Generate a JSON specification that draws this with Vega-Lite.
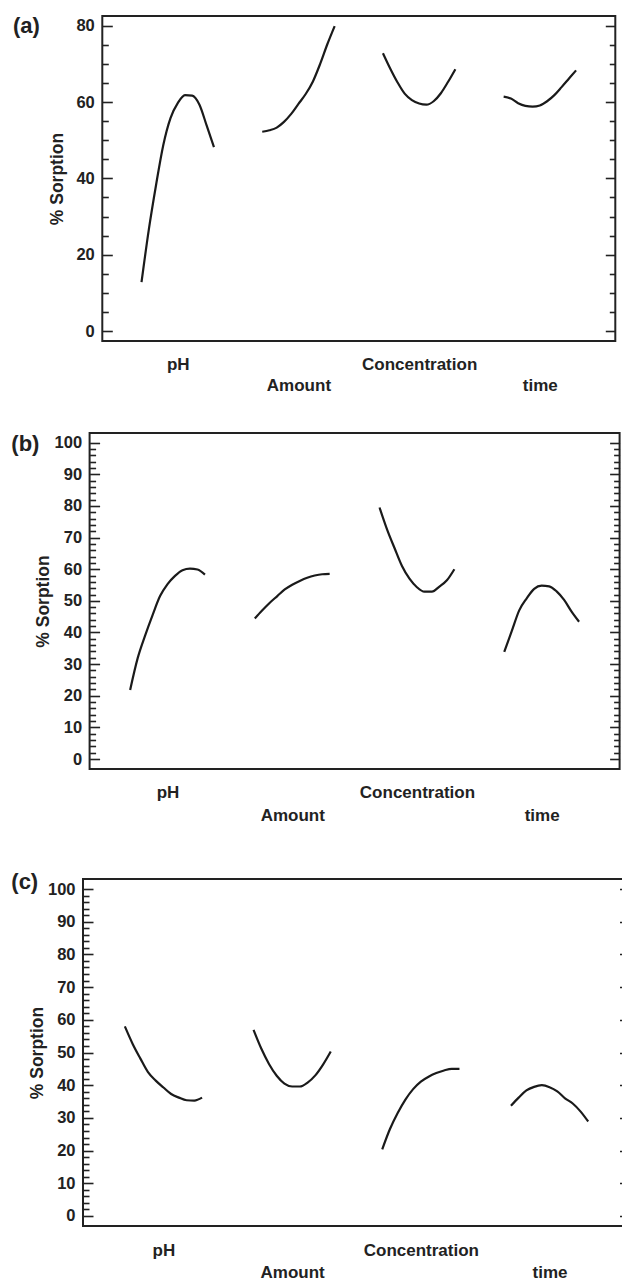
{
  "$schema": "https://vega.github.io/schema/vega-lite/v6.json",
  "padding": {"left": 10, "top": 14, "right": 0, "bottom": 0},
  "datasets": {
    "a": [
      {"f":"pH","x":0.7,"y":12.8},{"f":"pH","x":0.76,"y":26.5},{"f":"pH","x":0.82,"y":38.2},{"f":"pH","x":0.88,"y":48.7},{"f":"pH","x":0.94,"y":55.8},{"f":"pH","x":1.0,"y":59.7},{"f":"pH","x":1.06,"y":61.8},{"f":"pH","x":1.12,"y":61.7},{"f":"pH","x":1.18,"y":59.3},{"f":"pH","x":1.24,"y":53.8},{"f":"pH","x":1.3,"y":48.2},
      {"f":"Amount","x":1.7,"y":52.2},{"f":"Amount","x":1.76,"y":52.6},{"f":"Amount","x":1.82,"y":53.3},{"f":"Amount","x":1.88,"y":54.8},{"f":"Amount","x":1.94,"y":56.9},{"f":"Amount","x":2.0,"y":59.5},{"f":"Amount","x":2.06,"y":62.1},{"f":"Amount","x":2.12,"y":65.4},{"f":"Amount","x":2.18,"y":70.0},{"f":"Amount","x":2.24,"y":75.2},{"f":"Amount","x":2.3,"y":79.9},
      {"f":"Concentration","x":2.7,"y":72.8},{"f":"Concentration","x":2.76,"y":68.8},{"f":"Concentration","x":2.82,"y":65.2},{"f":"Concentration","x":2.88,"y":62.2},{"f":"Concentration","x":2.94,"y":60.5},{"f":"Concentration","x":3.0,"y":59.6},{"f":"Concentration","x":3.06,"y":59.3},{"f":"Concentration","x":3.12,"y":60.2},{"f":"Concentration","x":3.18,"y":62.3},{"f":"Concentration","x":3.24,"y":65.3},{"f":"Concentration","x":3.3,"y":68.6},
      {"f":"time","x":3.7,"y":61.4},{"f":"time","x":3.76,"y":60.9},{"f":"time","x":3.82,"y":59.7},{"f":"time","x":3.88,"y":59.0},{"f":"time","x":3.94,"y":58.8},{"f":"time","x":4.0,"y":59.1},{"f":"time","x":4.06,"y":60.2},{"f":"time","x":4.12,"y":61.8},{"f":"time","x":4.18,"y":63.9},{"f":"time","x":4.24,"y":66.1},{"f":"time","x":4.3,"y":68.3}
    ],
    "b": [
      {"f":"pH","x":0.7,"y":21.8},{"f":"pH","x":0.76,"y":31.8},{"f":"pH","x":0.82,"y":39.0},{"f":"pH","x":0.88,"y":45.5},{"f":"pH","x":0.94,"y":51.5},{"f":"pH","x":1.0,"y":55.3},{"f":"pH","x":1.06,"y":57.9},{"f":"pH","x":1.12,"y":59.7},{"f":"pH","x":1.18,"y":60.2},{"f":"pH","x":1.24,"y":59.9},{"f":"pH","x":1.3,"y":58.3},
      {"f":"Amount","x":1.7,"y":44.4},{"f":"Amount","x":1.76,"y":47.0},{"f":"Amount","x":1.82,"y":49.4},{"f":"Amount","x":1.88,"y":51.5},{"f":"Amount","x":1.94,"y":53.6},{"f":"Amount","x":2.0,"y":55.1},{"f":"Amount","x":2.06,"y":56.3},{"f":"Amount","x":2.12,"y":57.3},{"f":"Amount","x":2.18,"y":58.0},{"f":"Amount","x":2.24,"y":58.4},{"f":"Amount","x":2.3,"y":58.5},
      {"f":"Concentration","x":2.7,"y":79.5},{"f":"Concentration","x":2.76,"y":72.6},{"f":"Concentration","x":2.82,"y":66.7},{"f":"Concentration","x":2.88,"y":61.0},{"f":"Concentration","x":2.94,"y":57.0},{"f":"Concentration","x":3.0,"y":54.3},{"f":"Concentration","x":3.06,"y":52.9},{"f":"Concentration","x":3.12,"y":52.9},{"f":"Concentration","x":3.18,"y":54.5},{"f":"Concentration","x":3.24,"y":56.5},{"f":"Concentration","x":3.3,"y":60.0},
      {"f":"time","x":3.7,"y":33.9},{"f":"time","x":3.76,"y":40.4},{"f":"time","x":3.82,"y":47.0},{"f":"time","x":3.88,"y":50.8},{"f":"time","x":3.94,"y":53.8},{"f":"time","x":4.0,"y":54.8},{"f":"time","x":4.06,"y":54.6},{"f":"time","x":4.12,"y":53.0},{"f":"time","x":4.18,"y":50.3},{"f":"time","x":4.24,"y":46.6},{"f":"time","x":4.3,"y":43.4}
    ],
    "c": [
      {"f":"pH","x":0.7,"y":58.0},{"f":"pH","x":0.76,"y":52.7},{"f":"pH","x":0.82,"y":48.2},{"f":"pH","x":0.88,"y":44.0},{"f":"pH","x":0.94,"y":41.4},{"f":"pH","x":1.0,"y":39.3},{"f":"pH","x":1.06,"y":37.3},{"f":"pH","x":1.12,"y":36.2},{"f":"pH","x":1.18,"y":35.4},{"f":"pH","x":1.24,"y":35.3},{"f":"pH","x":1.3,"y":36.2},
      {"f":"Amount","x":1.7,"y":56.9},{"f":"Amount","x":1.76,"y":51.2},{"f":"Amount","x":1.82,"y":46.5},{"f":"Amount","x":1.88,"y":42.9},{"f":"Amount","x":1.94,"y":40.5},{"f":"Amount","x":2.0,"y":39.6},{"f":"Amount","x":2.06,"y":39.6},{"f":"Amount","x":2.12,"y":40.8},{"f":"Amount","x":2.18,"y":43.0},{"f":"Amount","x":2.24,"y":46.3},{"f":"Amount","x":2.3,"y":50.3},
      {"f":"Concentration","x":2.7,"y":20.4},{"f":"Concentration","x":2.76,"y":26.6},{"f":"Concentration","x":2.82,"y":31.5},{"f":"Concentration","x":2.88,"y":35.6},{"f":"Concentration","x":2.94,"y":38.8},{"f":"Concentration","x":3.0,"y":41.1},{"f":"Concentration","x":3.06,"y":42.6},{"f":"Concentration","x":3.12,"y":43.7},{"f":"Concentration","x":3.18,"y":44.5},{"f":"Concentration","x":3.24,"y":45.0},{"f":"Concentration","x":3.3,"y":45.0},
      {"f":"time","x":3.7,"y":33.7},{"f":"time","x":3.76,"y":36.2},{"f":"time","x":3.82,"y":38.4},{"f":"time","x":3.88,"y":39.5},{"f":"time","x":3.94,"y":40.0},{"f":"time","x":4.0,"y":39.4},{"f":"time","x":4.06,"y":38.1},{"f":"time","x":4.12,"y":36.0},{"f":"time","x":4.18,"y":34.4},{"f":"time","x":4.24,"y":32.0},{"f":"time","x":4.3,"y":28.9}
    ]
  },
  "columns": 1,
  "center": true,
  "spacing": 0,
  "concat": [
    {
      "width": 513, "height": 325,
      "data": {"name": "a"},
      "title": {"text": "(a)", "anchor": "start", "frame": "group", "orient": "top", "offset": 0, "dx": -89.3, "dy": 22, "fontSize": 22, "fontWeight": "bold", "font": "Liberation Sans", "color": "#222"},
      "encoding": {
        "x": {"field": "x", "type": "quantitative", "scale": {"domain": [0.375, 4.625], "nice": false, "zero": false},
          "axis": {"values": [1, 2, 3, 4], "domain": false, "grid": false, "ticks": false, "title": null,
            "labelExpr": "datum.value === 1 ? 'pH' : datum.value === 2 ? ['', 'Amount'] : datum.value === 3 ? 'Concentration' : ['', 'time']",
            "labelBaseline": "top", "labelPadding": 15, "labelLineHeight": 21, "labelFontSize": 17, "labelFontWeight": "bold", "labelColor": "#222", "labelFont": "Liberation Sans", "labelOverlap": false, "labelFlush": false, "minExtent": 90, "maxExtent": 90}},
        "detail": {"field": "f"}
      },
      "layer": [
        {"mark": {"type": "line", "interpolate": "monotone", "color": "#1a1a1a", "strokeWidth": 2.2},
          "encoding": {"y": {"field": "y", "type": "quantitative", "scale": {"domain": [-2.62, 82.54], "nice": false, "zero": false},
            "axis": {"orient": "left", "values": [0,5,10,15,20,25,30,35,40,45,50,55,60,65,70,75,80], "domain": false, "grid": false,
              "tickSize": {"condition": {"test": "datum.value % 20 === 0", "value": -10}, "value": -6}, "tickColor": "#222", "tickWidth": 1.6,
              "labelExpr": "datum.value % 20 === 0 ? datum.label : ''", "labelPadding": 18, "labelFontSize": 16.5, "labelFontWeight": "bold", "labelColor": "#222", "labelFont": "Liberation Sans", "labelOverlap": false,
              "title": "% Sorption", "titleFontSize": 17.5, "titleFontWeight": "bold", "titleColor": "#222", "titleFont": "Liberation Sans", "titleX": -36}}}},
        {"mark": {"type": "line", "opacity": 0},
          "encoding": {"y": {"field": "y", "type": "quantitative", "scale": {"domain": [-2.62, 82.54], "nice": false, "zero": false},
            "axis": {"orient": "right", "values": [0,5,10,15,20,25,30,35,40,45,50,55,60,65,70,75,80], "domain": false, "grid": false, "labels": false, "title": null,
              "tickSize": {"condition": {"test": "datum.value % 20 === 0", "value": -10}, "value": -6}, "tickColor": "#222", "tickWidth": 1.6, "minExtent": 3.4, "maxExtent": 3.4}}}}
      ],
      "resolve": {"axis": {"y": "independent"}}
    },
    {
      "width": 530, "height": 336,
      "data": {"name": "b"},
      "title": {"text": "(b)", "anchor": "start", "frame": "group", "orient": "top", "offset": 0, "dx": -78.3, "dy": 23, "fontSize": 22, "fontWeight": "bold", "font": "Liberation Sans", "color": "#222"},
      "encoding": {
        "x": {"field": "x", "type": "quantitative", "scale": {"domain": [0.375, 4.625], "nice": false, "zero": false},
          "axis": {"values": [1, 2, 3, 4], "domain": false, "grid": false, "ticks": false, "title": null,
            "labelExpr": "datum.value === 1 ? 'pH' : datum.value === 2 ? ['', 'Amount'] : datum.value === 3 ? 'Concentration' : ['', 'time']",
            "labelBaseline": "top", "labelPadding": 15, "labelLineHeight": 23, "labelFontSize": 17, "labelFontWeight": "bold", "labelColor": "#222", "labelFont": "Liberation Sans", "labelOverlap": false, "labelFlush": false, "minExtent": 100, "maxExtent": 100}},
        "detail": {"field": "f"}
      },
      "layer": [
        {"mark": {"type": "line", "interpolate": "monotone", "color": "#1a1a1a", "strokeWidth": 2.2},
          "encoding": {"y": {"field": "y", "type": "quantitative", "scale": {"domain": [-3.16, 103.06], "nice": false, "zero": false},
            "axis": {"orient": "left", "values": [0,2,4,6,8,10,12,14,16,18,20,22,24,26,28,30,32,34,36,38,40,42,44,46,48,50,52,54,56,58,60,62,64,66,68,70,72,74,76,78,80,82,84,86,88,90,92,94,96,98,100], "domain": false, "grid": false,
              "tickSize": {"condition": {"test": "datum.value % 10 === 0", "value": -10}, "value": -6}, "tickColor": "#222", "tickWidth": 1.6,
              "labelExpr": "datum.value % 10 === 0 ? datum.label : ''", "labelPadding": 18, "labelFontSize": 16.5, "labelFontWeight": "bold", "labelColor": "#222", "labelFont": "Liberation Sans", "labelOverlap": false,
              "title": "% Sorption", "titleFontSize": 17.5, "titleFontWeight": "bold", "titleColor": "#222", "titleFont": "Liberation Sans", "titleX": -37}}}},
        {"mark": {"type": "line", "opacity": 0},
          "encoding": {"y": {"field": "y", "type": "quantitative", "scale": {"domain": [-3.16, 103.06], "nice": false, "zero": false},
            "axis": {"orient": "right", "values": [0,2,4,6,8,10,12,14,16,18,20,22,24,26,28,30,32,34,36,38,40,42,44,46,48,50,52,54,56,58,60,62,64,66,68,70,72,74,76,78,80,82,84,86,88,90,92,94,96,98,100], "domain": false, "grid": false, "labels": false, "title": null,
              "tickSize": {"condition": {"test": "datum.value % 10 === 0", "value": -10}, "value": -6}, "tickColor": "#222", "tickWidth": 1.6, "minExtent": 11.8, "maxExtent": 11.8}}}}
      ],
      "resolve": {"axis": {"y": "independent"}}
    },
    {
      "width": 547, "height": 347,
      "data": {"name": "c"},
      "title": {"text": "(c)", "anchor": "start", "frame": "group", "orient": "top", "offset": 0, "dx": -71.7, "dy": 15, "fontSize": 22, "fontWeight": "bold", "font": "Liberation Sans", "color": "#222"},
      "encoding": {
        "x": {"field": "x", "type": "quantitative", "scale": {"domain": [0.375, 4.625], "nice": false, "zero": false},
          "axis": {"values": [1, 2, 3, 4], "domain": false, "grid": false, "ticks": false, "title": null,
            "labelExpr": "datum.value === 1 ? 'pH' : datum.value === 2 ? ['', 'Amount'] : datum.value === 3 ? 'Concentration' : ['', 'time']",
            "labelBaseline": "top", "labelPadding": 16, "labelLineHeight": 22, "labelFontSize": 17, "labelFontWeight": "bold", "labelColor": "#222", "labelFont": "Liberation Sans", "labelOverlap": false, "labelFlush": false}},
        "detail": {"field": "f"}
      },
      "layer": [
        {"mark": {"type": "line", "interpolate": "monotone", "color": "#1a1a1a", "strokeWidth": 2.2},
          "encoding": {"y": {"field": "y", "type": "quantitative", "scale": {"domain": [-3.06, 103.06], "nice": false, "zero": false},
            "axis": {"orient": "left", "values": [0,2,4,6,8,10,12,14,16,18,20,22,24,26,28,30,32,34,36,38,40,42,44,46,48,50,52,54,56,58,60,62,64,66,68,70,72,74,76,78,80,82,84,86,88,90,92,94,96,98,100], "domain": false, "grid": false,
              "tickSize": {"condition": {"test": "datum.value % 10 === 0", "value": -10}, "value": -6}, "tickColor": "#222", "tickWidth": 1.6,
              "labelExpr": "datum.value % 10 === 0 ? datum.label : ''", "labelPadding": 18, "labelFontSize": 16.5, "labelFontWeight": "bold", "labelColor": "#222", "labelFont": "Liberation Sans", "labelOverlap": false,
              "title": "% Sorption", "titleFontSize": 17.5, "titleFontWeight": "bold", "titleColor": "#222", "titleFont": "Liberation Sans", "titleX": -37}}}},
        {"mark": {"type": "line", "opacity": 0},
          "encoding": {"y": {"field": "y", "type": "quantitative", "scale": {"domain": [-3.06, 103.06], "nice": false, "zero": false},
            "axis": {"orient": "right", "values": [0,10,20,30,40,50,60,70,80,90,100], "domain": false, "grid": false, "labels": false, "title": null,
              "tickSize": -10.5, "tickColor": "#222", "tickWidth": 1.6, "minExtent": 8, "maxExtent": 8}}}}
      ],
      "resolve": {"axis": {"y": "independent"}}
    }
  ],
  "config": {
    "view": {"stroke": "#222", "strokeWidth": 2},
    "font": "Liberation Sans"
  }
}
